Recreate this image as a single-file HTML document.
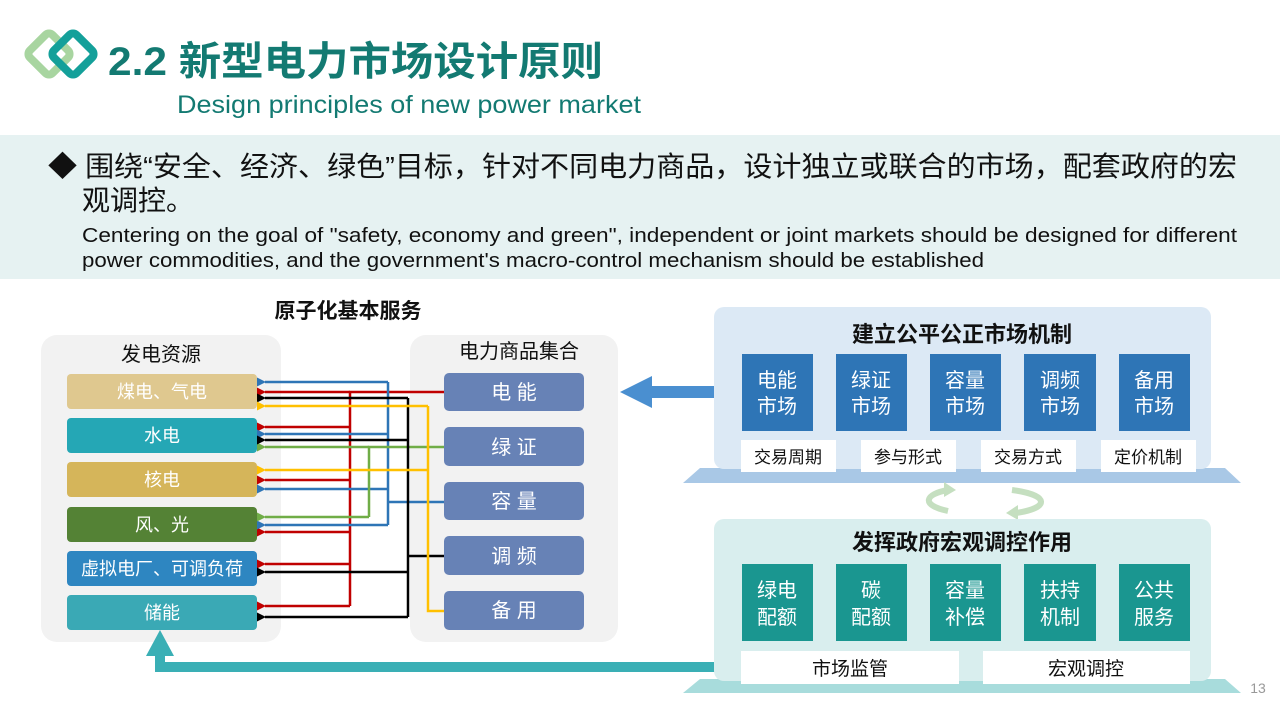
<!DOCTYPE html>
<html><head><meta charset="utf-8"><style>
body{margin:0;width:1280px;height:720px;background:#fff;overflow:hidden;font-family:"Liberation Sans","Noto Sans CJK SC",sans-serif}
svg text{font-family:"Liberation Sans","Noto Sans CJK SC",sans-serif}
</style></head><body>
<svg width="1280" height="720" viewBox="0 0 1280 720" xmlns="http://www.w3.org/2000/svg">
<defs>
<marker id="mr" markerWidth="9" markerHeight="9" refX="1" refY="4.5" orient="auto" markerUnits="userSpaceOnUse"><path d="M9,0 L0,4.5 L9,9z" fill="#c00000"/></marker>
<marker id="mb" markerWidth="9" markerHeight="9" refX="1" refY="4.5" orient="auto" markerUnits="userSpaceOnUse"><path d="M9,0 L0,4.5 L9,9z" fill="#2e75b6"/></marker>
<marker id="mk" markerWidth="9" markerHeight="9" refX="1" refY="4.5" orient="auto" markerUnits="userSpaceOnUse"><path d="M9,0 L0,4.5 L9,9z" fill="#000"/></marker>
<marker id="my" markerWidth="9" markerHeight="9" refX="1" refY="4.5" orient="auto" markerUnits="userSpaceOnUse"><path d="M9,0 L0,4.5 L9,9z" fill="#ffc000"/></marker>
<marker id="mg" markerWidth="9" markerHeight="9" refX="1" refY="4.5" orient="auto" markerUnits="userSpaceOnUse"><path d="M9,0 L0,4.5 L9,9z" fill="#70ad47"/></marker>
</defs>
<!-- logo -->
<rect x="33" y="38" width="32" height="32" rx="5" transform="rotate(45 49 54)" fill="none" stroke="#a8d5a0" stroke-width="8"/>
<rect x="57" y="38" width="32" height="32" rx="5" transform="rotate(45 73 54)" fill="none" stroke="#14a09a" stroke-width="8"/>
<text x="108" y="75" font-size="40" font-weight="bold" fill="#137a72" textLength="495" lengthAdjust="spacingAndGlyphs">2.2 新型电力市场设计原则</text>
<text x="177" y="113" font-size="25" fill="#137a72" textLength="464" lengthAdjust="spacingAndGlyphs">Design principles of new power market</text>
<!-- banner -->
<rect x="0" y="135" width="1280" height="144" fill="#e6f2f2"/>
<text x="48" y="176" font-size="28" fill="#111" textLength="1189" lengthAdjust="spacingAndGlyphs">◆ 围绕“安全、经济、绿色”目标，针对不同电力商品，设计独立或联合的市场，配套政府的宏</text>
<text x="82" y="210" font-size="28" fill="#111">观调控。</text>
<text x="82" y="242" font-size="20" fill="#111" textLength="1155" lengthAdjust="spacingAndGlyphs">Centering on the goal of "safety, economy and green", independent or joint markets should be designed for different</text>
<text x="82" y="267" font-size="20" fill="#111" textLength="902" lengthAdjust="spacingAndGlyphs">power commodities, and the government's macro-control mechanism should be established</text>
<!-- left diagram -->
<text x="348" y="318" font-size="21" font-weight="bold" text-anchor="middle" fill="#111">原子化基本服务</text>
<rect x="41" y="335" width="240" height="307" rx="16" fill="#f2f2f2"/>
<rect x="410" y="335" width="208" height="307" rx="16" fill="#f2f2f2"/>
<text x="161" y="361" font-size="20" text-anchor="middle" fill="#111">发电资源</text>
<text x="519" y="358" font-size="20" text-anchor="middle" fill="#111">电力商品集合</text>
<g font-size="18" text-anchor="middle" fill="#fff">
<rect x="67" y="374" width="190" height="35" rx="4" fill="#dfc88f"/><text x="162" y="398">煤电、气电</text>
<rect x="67" y="418" width="190" height="35" rx="4" fill="#25a7b5"/><text x="162" y="442">水电</text>
<rect x="67" y="462" width="190" height="35" rx="4" fill="#d5b55a"/><text x="162" y="486">核电</text>
<rect x="67" y="507" width="190" height="35" rx="4" fill="#548235"/><text x="162" y="531">风、光</text>
<rect x="67" y="551" width="190" height="35" rx="4" fill="#2e86c1"/><text x="162" y="575">虚拟电厂、可调负荷</text>
<rect x="67" y="595" width="190" height="35" rx="4" fill="#3aa9b5"/><text x="162" y="619">储能</text>
</g>
<g font-size="20" text-anchor="middle" fill="#fff">
<rect x="444" y="373" width="140" height="38" rx="5" fill="#6782b6"/><text x="514" y="399">电 能</text>
<rect x="444" y="427" width="140" height="39" rx="5" fill="#6782b6"/><text x="514" y="454">绿 证</text>
<rect x="444" y="482" width="140" height="38" rx="5" fill="#6782b6"/><text x="514" y="508">容 量</text>
<rect x="444" y="536" width="140" height="39" rx="5" fill="#6782b6"/><text x="514" y="563">调 频</text>
<rect x="444" y="591" width="140" height="39" rx="5" fill="#6782b6"/><text x="514" y="617">备 用</text>
</g>
<g fill="none" stroke-width="2.5">
<path d="M444 392H350V606" stroke="#c00000"/>
<g stroke="#c00000" marker-end="url(#mr)"><path d="M350 392H265"/><path d="M350 427H265"/><path d="M350 480H265"/><path d="M350 532H265"/><path d="M350 564H265"/><path d="M350 606H265"/></g>
<path d="M444 502H388V382M388 502V525" stroke="#2e75b6"/>
<g stroke="#2e75b6" marker-end="url(#mb)"><path d="M388 382H265"/><path d="M388 434H265"/><path d="M388 489H265"/><path d="M388 525H265"/></g>
<path d="M444 447H369V517" stroke="#70ad47"/>
<g stroke="#70ad47" marker-end="url(#mg)"><path d="M369 447H265"/><path d="M369 517H265"/></g>
<path d="M444 556H408V398M408 556V617" stroke="#000"/>
<g stroke="#000" marker-end="url(#mk)"><path d="M408 398H265"/><path d="M408 440H265"/><path d="M408 572H265"/><path d="M408 617H265"/></g>
<path d="M444 611H428V406" stroke="#ffc000"/>
<g stroke="#ffc000" marker-end="url(#my)"><path d="M428 406H265"/><path d="M428 470H265"/></g>
</g>
<!-- big arrows -->
<rect x="650" y="386" width="66" height="12" fill="#4a8fd0"/><path d="M652 376L620 392L652 408z" fill="#4a8fd0"/>
<path d="M716 667H160V652" fill="none" stroke="#3aafb5" stroke-width="10"/>
<path d="M146 656L160 630L174 656z" fill="#3aafb5"/>
<!-- top panel -->
<path d="M700 468H1225L1241 483H683z" fill="#a9c8e6"/>
<rect x="714" y="307" width="497" height="162" rx="10" fill="#dce9f5"/>
<text x="962" y="342" font-size="22" font-weight="bold" text-anchor="middle" fill="#111">建立公平公正市场机制</text>
<g font-size="20" text-anchor="middle" fill="#fff">
<rect x="742" y="354" width="71" height="77" fill="#2e75b6"/><text x="777" y="387">电能</text><text x="777" y="413">市场</text>
<rect x="836" y="354" width="71" height="77" fill="#2e75b6"/><text x="871" y="387">绿证</text><text x="871" y="413">市场</text>
<rect x="930" y="354" width="71" height="77" fill="#2e75b6"/><text x="965" y="387">容量</text><text x="965" y="413">市场</text>
<rect x="1024" y="354" width="72" height="77" fill="#2e75b6"/><text x="1060" y="387">调频</text><text x="1060" y="413">市场</text>
<rect x="1119" y="354" width="71" height="77" fill="#2e75b6"/><text x="1154" y="387">备用</text><text x="1154" y="413">市场</text>
</g>
<g font-size="17" text-anchor="middle" fill="#111">
<rect x="741" y="440" width="95" height="32" fill="#fff"/><text x="788" y="463">交易周期</text>
<rect x="861" y="440" width="95" height="32" fill="#fff"/><text x="908" y="463">参与形式</text>
<rect x="981" y="440" width="95" height="32" fill="#fff"/><text x="1028" y="463">交易方式</text>
<rect x="1101" y="440" width="95" height="32" fill="#fff"/><text x="1148" y="463">定价机制</text>
</g>
<!-- cycle arrows -->
<path d="M948 490C925 494 920 505 948 511" fill="none" stroke="#c5dfc0" stroke-width="6"/>
<path d="M944 482L956 490L944 497z" fill="#c5dfc0"/>
<path d="M1012 490C1050 495 1050 508 1016 513" fill="none" stroke="#c5dfc0" stroke-width="6"/>
<path d="M1018 505L1006 513L1018 520z" fill="#c5dfc0"/>
<!-- bottom panel -->
<path d="M700 679H1225L1241 693H683z" fill="#a8dcdc"/>
<rect x="714" y="519" width="497" height="162" rx="10" fill="#d9eeee"/>
<text x="962" y="550" font-size="22" font-weight="bold" text-anchor="middle" fill="#111">发挥政府宏观调控作用</text>
<g font-size="20" text-anchor="middle" fill="#fff">
<rect x="742" y="564" width="71" height="77" fill="#1a9690"/><text x="777" y="597">绿电</text><text x="777" y="624">配额</text>
<rect x="836" y="564" width="71" height="77" fill="#1a9690"/><text x="871" y="597">碳</text><text x="871" y="624">配额</text>
<rect x="930" y="564" width="71" height="77" fill="#1a9690"/><text x="965" y="597">容量</text><text x="965" y="624">补偿</text>
<rect x="1024" y="564" width="72" height="77" fill="#1a9690"/><text x="1060" y="597">扶持</text><text x="1060" y="624">机制</text>
<rect x="1119" y="564" width="71" height="77" fill="#1a9690"/><text x="1154" y="597">公共</text><text x="1154" y="624">服务</text>
</g>
<g font-size="19" text-anchor="middle" fill="#111">
<rect x="741" y="651" width="218" height="33" fill="#fff"/><text x="850" y="675">市场监管</text>
<rect x="983" y="651" width="207" height="33" fill="#fff"/><text x="1086" y="675">宏观调控</text>
</g>
<text x="1258" y="693" font-size="14" text-anchor="middle" fill="#999">13</text>
</svg>
</body></html>
